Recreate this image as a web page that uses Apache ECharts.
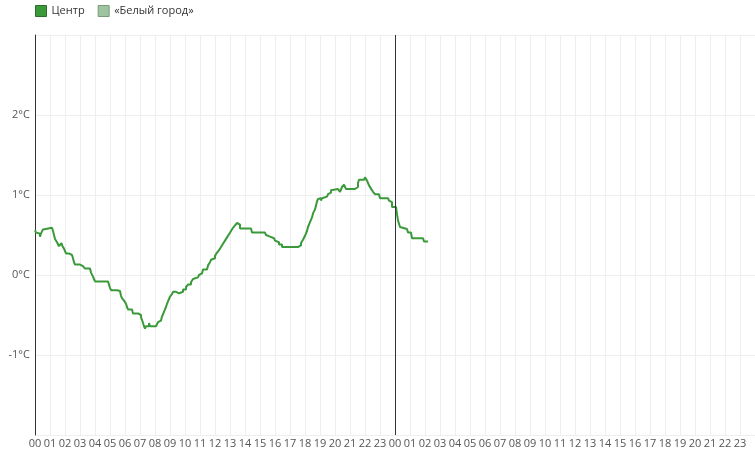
<!DOCTYPE html>
<html><head><meta charset="utf-8">
<script src="https://cdn.jsdelivr.net/npm/echarts@6/dist/echarts.min.js"></script>
<style>html,body{margin:0;padding:0;background:#fff}#c{width:755px;height:451px}</style>
</head><body><div id="c"></div>
<script>
const seriesNames = ['Центр', '«Белый город»'];
const seriesColors = ['#3a9a3a', '#a0c4a0'];
// minutes since 00:00 of the first day
const timeMinutes = [0,4,12,18,20,24,32,40,68,72,76,80,84,88,92,96,104,106,110,112,116,120,124,132,136,148,152,156,160,180,184,192,196,200,220,224,232,236,240,292,296,300,304,328,332,340,344,348,356,364,368,372,388,392,412,416,424,428,432,436,440,444,452,456,460,472,476,484,492,496,504,508,512,516,520,524,528,532,536,540,548,552,560,564,568,572,576,584,592,604,612,624,632,640,652,656,660,668,672,688,692,700,704,712,720,728,736,744,752,760,768,776,784,792,800,808,812,816,820,864,868,920,924,932,940,956,960,968,976,988,1052,1056,1064,1072,1080,1088,1092,1100,1108,1112,1120,1124,1128,1132,1140,1144,1148,1156,1168,1172,1180,1184,1192,1212,1216,1220,1224,1228,1236,1240,1244,1280,1284,1292,1296,1316,1320,1324,1328,1332,1336,1344,1352,1360,1376,1380,1412,1416,1424,1428,1444,1448,1452,1456,1460,1464,1488,1492,1504,1508,1552,1556,1572];
const centerTemps = [0.56,0.53,0.52,0.52,0.48,0.52,0.57,0.59,0.59,0.55,0.5,0.45,0.43,0.41,0.39,0.36,0.36,0.4,0.36,0.35,0.33,0.3,0.27,0.27,0.25,0.24,0.21,0.16,0.13,0.13,0.11,0.13,0.1,0.08,0.08,0.03,-0.02,-0.05,-0.08,-0.08,-0.12,-0.16,-0.19,-0.19,-0.2,-0.22,-0.26,-0.29,-0.32,-0.36,-0.4,-0.43,-0.43,-0.48,-0.48,-0.5,-0.53,-0.56,-0.6,-0.64,-0.67,-0.64,-0.64,-0.6,-0.64,-0.65,-0.64,-0.63,-0.59,-0.57,-0.55,-0.52,-0.5,-0.46,-0.43,-0.4,-0.36,-0.33,-0.3,-0.27,-0.24,-0.21,-0.21,-0.2,-0.2,-0.23,-0.23,-0.21,-0.18,-0.15,-0.12,-0.09,-0.05,-0.03,-0.03,0.0,0.02,0.02,0.07,0.07,0.12,0.16,0.19,0.21,0.24,0.28,0.31,0.35,0.39,0.43,0.47,0.51,0.55,0.59,0.62,0.65,0.66,0.63,0.58,0.58,0.53,0.51,0.5,0.48,0.46,0.46,0.43,0.41,0.38,0.35,0.35,0.37,0.4,0.44,0.49,0.55,0.6,0.66,0.72,0.77,0.82,0.87,0.92,0.95,0.96,0.93,0.96,0.98,0.99,1.01,1.03,1.06,1.075,1.075,1.06,1.04,1.02,1.1,1.13,1.12,1.075,1.075,1.1,1.15,1.19,1.19,1.22,1.2,1.18,1.15,1.12,1.08,1.04,1.01,1.01,0.96,0.96,0.93,0.91,0.85,0.85,0.76,0.68,0.64,0.6,0.575,0.575,0.53,0.525,0.46,0.46,0.42,0.42];
const beliyGorodTemps = [];
const dayBoundaries = [1440];

const font = "'Open Sans', sans-serif";
const chart = echarts.init(document.getElementById('c'), null, {renderer: 'canvas'});
chart.setOption({
  animation: false,
  textStyle: {fontFamily: font},
  legend: {
    left: 30, top: 0, itemWidth: 11, itemHeight: 11, itemGap: 13, icon: 'rect',
    textStyle: {fontSize: 11, color: '#333', fontFamily: font},
    data: seriesNames.map((n, i) => ({name: n, itemStyle: {color: seriesColors[i], borderColor: i === 0 ? '#2d6e2d' : '#7a9a7a', borderWidth: 1}}))
  },
  grid: {left: 35, right: 0, top: 35, bottom: 16, containLabel: false},
  xAxis: {
    type: 'value', min: 0, max: 2880, interval: 60,
    axisLine: {show: false}, axisTick: {show: false},
    splitLine: {show: true, lineStyle: {color: '#eeeeee', width: 1}},
    axisLabel: {
      color: '#555', fontSize: 11, margin: 3, fontFamily: font, showMaxLabel: false,
      formatter: v => { if (v >= 2880) return ''; const h = Math.round(v / 60) % 24; return (h < 10 ? '0' : '') + h; }
    }
  },
  yAxis: {
    type: 'value', min: -2, max: 3, interval: 1,
    axisLine: {show: true, lineStyle: {color: '#333', width: 1}},
    axisTick: {show: false},
    splitLine: {show: true, lineStyle: {color: '#eeeeee', width: 1}},
    axisLabel: {
      color: '#555', fontSize: 11, margin: 5, fontFamily: font,
      formatter: v => (v >= 3 || v <= -2) ? '' : v + '°C'
    }
  },
  series: [
    {
      name: seriesNames[0], type: 'line', step: 'end', showSymbol: false, symbol: 'none',
      data: timeMinutes.map((t, i) => [t, centerTemps[i]]),
      lineStyle: {color: seriesColors[0], width: 2},
      itemStyle: {color: seriesColors[0]},
      markLine: {
        silent: true, symbol: ['none', 'none'], label: {show: false},
        lineStyle: {color: '#333', width: 1, type: 'solid'},
        data: dayBoundaries.map(d => ({xAxis: d}))
      }
    },
    {
      name: seriesNames[1], type: 'line', showSymbol: false, symbol: 'none',
      data: beliyGorodTemps,
      lineStyle: {color: seriesColors[1], width: 2},
      itemStyle: {color: seriesColors[1]}
    }
  ]
});
</script></body></html>
